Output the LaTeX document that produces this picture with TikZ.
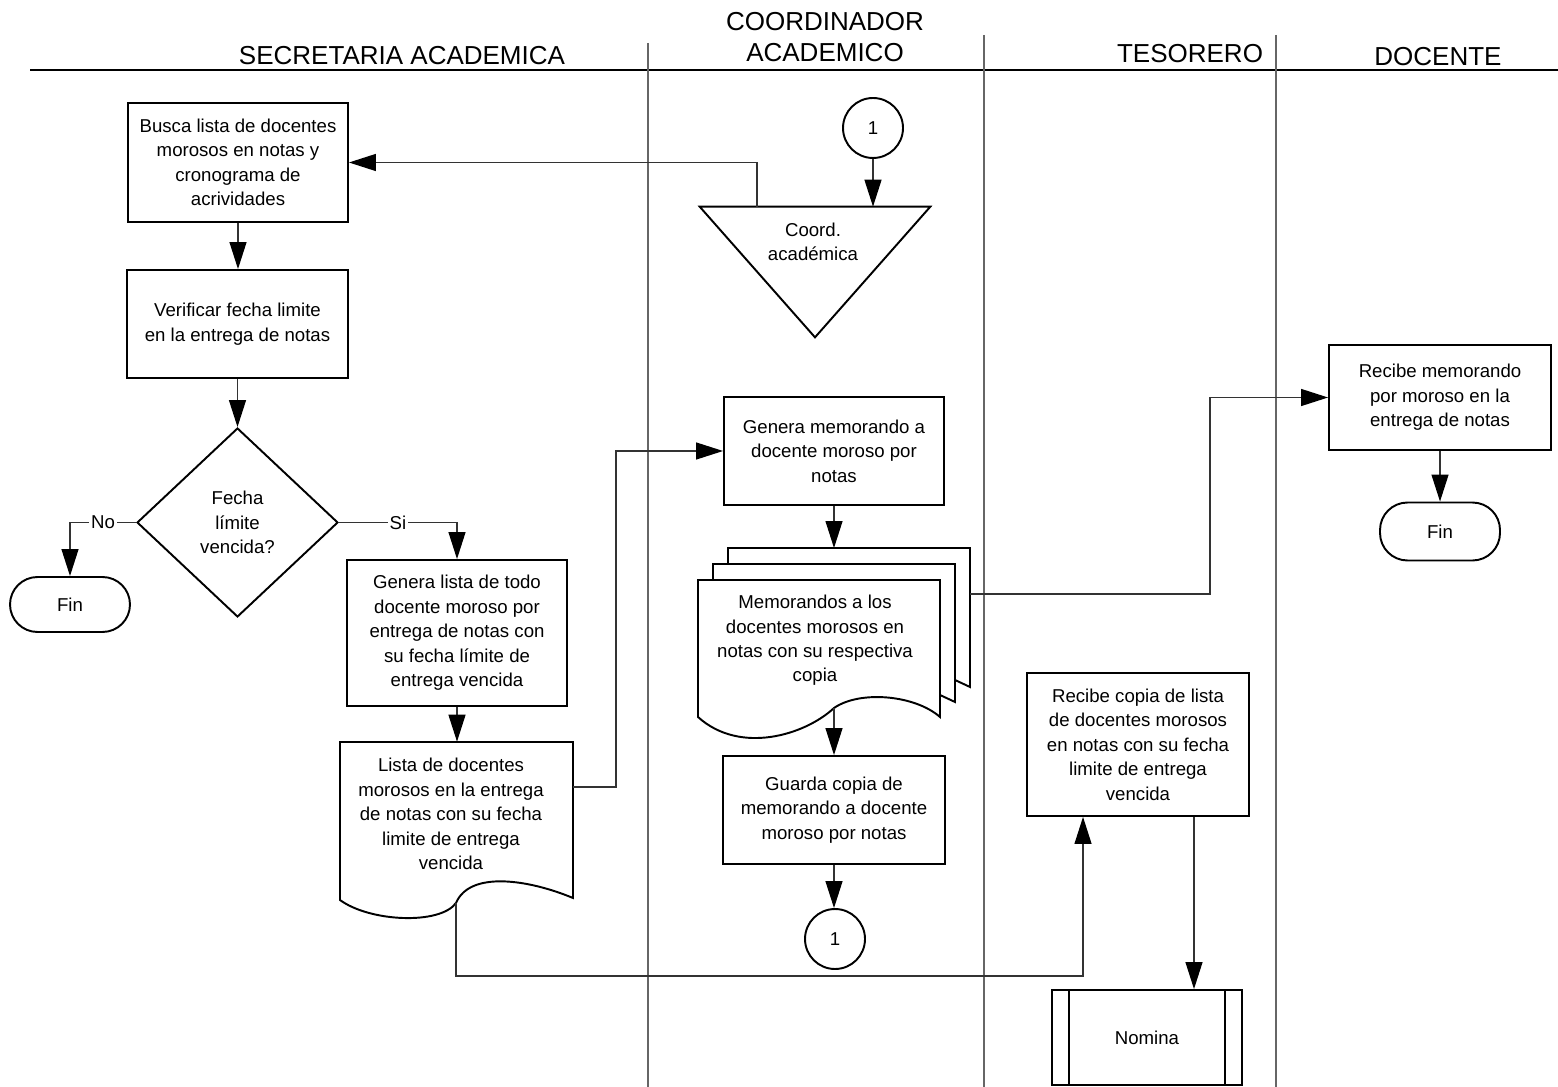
\documentclass[tikz,border=0pt]{standalone}
\usepackage{fontspec}
\setmainfont{Liberation Sans}
\usetikzlibrary{shapes.geometric,arrows.meta}
\tikzset{
  txt/.style={font=\fontsize{10.6}{13.9}\selectfont, align=center, inner sep=0pt},
  box/.style={txt, draw, line width=1.1pt, fill=white},
  term/.style={box, rounded corners=0.55cm},
  conn/.style={line width=0.7pt, draw=black!80},
  arr/.style={conn, -{Triangle[length=0.54cm,width=0.34cm,color=black,fill=black]}},
  lane/.style={line width=0.7pt, draw=black!60},
  hdr/.style={font=\fontsize{14.8}{17.6}\selectfont, align=center, inner sep=0pt},
  shp/.style={line width=1.1pt, fill=white, line join=miter},
  lbl/.style={txt, fill=white, inner sep=1pt}
}
\begin{document}
\begin{tikzpicture}[x=0.02cm,y=-0.02cm]
\useasboundingbox (0,0) rectangle (1558,1087);
% swimlanes
\draw[line width=1.3pt] (30,70) -- (1558,70);
\draw[lane] (648,43) -- (648,1087);
\draw[lane] (984,35) -- (984,1087);
\draw[lane] (1276,35) -- (1276,1087);
\node[hdr] (hSA) at (402,56) {SECRETARIA ACADEMICA};
\node[hdr] (hCA) at (825,37.5) {COORDINADOR\\ACADEMICO};
\node[hdr] (hTE) at (1190,54) {TESORERO};
\node[hdr] (hDO) at (1438,57) {DOCENTE};

% Secretaria
\node[box, minimum width=4.4cm, minimum height=2.38cm] (b1) at (238,162.5)
  {Busca lista de docentes\\morosos en notas y\\cronograma de\\acrividades};
\node[box, minimum width=4.42cm, minimum height=2.16cm] (b2) at (237.5,324)
  {Verificar fecha limite\\en la entrega de notas};
\node[box, diamond, minimum width=4.02cm, minimum height=3.78cm] (dia) at (237.5,522.5)
  {Fecha\\límite\\vencida?};
\node[term, minimum width=2.4cm, minimum height=1.1cm] (fin1) at (70,604.5) {Fin};
\node[box, minimum width=4.4cm, minimum height=2.92cm] (b3) at (457,633)
  {Genera lista de todo\\docente moroso por\\entrega de notas con\\su fecha límite de\\entrega vencida};
% document shape
\node[minimum width=4.66cm, minimum height=3.16cm, inner sep=0pt] (doc1) at (456.5,821) {};
\draw[shp] (340,742) -- (573,742) -- (573,898)
  .. controls (530,880) and (470,870) .. (456,903)
  .. controls (440,925) and (370,922) .. (340,900) -- cycle;
\node[txt] (doc1t) at (451,814)
  {Lista de docentes\\morosos en la entrega\\de notas con su fecha\\limite de entrega\\vencida};
\coordinate (doc1r) at (573,787);
\coordinate (doc1b) at (456,903);

% Coordinador
\node[box, circle, minimum size=1.2cm] (c1) at (873,128) {1};
\node[minimum width=4.6cm, minimum height=2.6cm, inner sep=0pt] (tri) at (815,272) {};
\draw[shp] (tri.north west) -- (tri.north east) -- (tri.south) -- cycle;
\node[txt] (trit) at (813,242) {Coord.\\académica};
\node[box, minimum width=4.4cm, minimum height=2.16cm] (b4) at (834,451)
  {Genera memorando a\\docente moroso por\\notas};
% multi document
\draw[shp] (728,564) -- (728,548) -- (970,548) -- (970,687) -- (955,680);
\draw[shp] (713,580) -- (713,564) -- (955,564) -- (955,702) -- (940,695);
\draw[shp] (698,580) -- (940,580) -- (940,717)
  .. controls (915,695) and (860,690) .. (834,708)
  .. controls (805,735) and (740,755) .. (698,717) -- cycle;
\node[minimum width=4.84cm, minimum height=2.74cm, inner sep=0pt] (mdoc) at (819,648.5) {};
\node[txt] (mdoct) at (815,640.5)
  {Memorandos a los\\docentes morosos en\\notas con su respectiva\\copia};
\coordinate (mdtop) at (834,548);
\coordinate (mdbot) at (834,708);
\coordinate (mdright) at (970,594);
\node[box, minimum width=4.44cm, minimum height=2.16cm] (b5) at (834,810)
  {Guarda copia de\\memorando a docente\\moroso por notas};
\node[box, circle, minimum size=1.2cm] (c2) at (835,939) {1};

% Tesorero
\node[box, minimum width=4.44cm, minimum height=2.86cm] (b6) at (1138,744.5)
  {Recibe copia de lista\\de docentes morosos\\en notas con su fecha\\limite de entrega\\vencida};
\node[box, minimum width=3.8cm, minimum height=1.9cm] (nom) at (1147,1037.5) {Nomina};
\draw[line width=0.8pt] ([xshift=0.36cm]nom.north west) -- ([xshift=0.36cm]nom.south west);
\draw[line width=0.8pt] ([xshift=-0.36cm]nom.north east) -- ([xshift=-0.36cm]nom.south east);

% Docente
\node[box, minimum width=4.44cm, minimum height=2.1cm] (b7) at (1440,397.5)
  {Recibe memorando\\por moroso en la\\entrega de notas};
\node[term, minimum width=2.4cm, minimum height=1.16cm] (fin2) at (1440,531.5) {Fin};

% connectors
\draw[arr] (b1.south) -- (b1.south |- b2.north);
\draw[arr] (b2.south) -- (dia.north);
\draw[arr] (dia.west) -| (fin1.north) node[lbl, pos=0.25] {No};
\draw[arr] (dia.east) -| (b3.north) node[lbl, pos=0.25] {Si};
\draw[arr] (b3.south) -- (b3.south |- doc1.north);
\draw[arr] (doc1r) -- ++(43,0) |- (b4.west);
\draw[arr] (doc1b) -- (456,976) -| ([xshift=-1.1cm]b6.south);
\draw[arr] (c1.south) -- (c1.south |- tri.north);
\draw[arr] ([xshift=-1.16cm]tri.north) |- (b1.east);
\draw[arr] (b4.south) -- (mdtop);
\draw[arr] (mdbot) -- (b5.north);
\draw[arr] (b5.south) -- (b5.south |- c2.north);
\draw[arr] (mdright) -- ++(240,0) |- (b7.west);
\draw[arr] ([xshift=1.12cm]b6.south) -- ([xshift=1.12cm]b6.south |- nom.north);
\draw[arr] (b7.south) -- (fin2.north);
\end{tikzpicture}
\end{document}
